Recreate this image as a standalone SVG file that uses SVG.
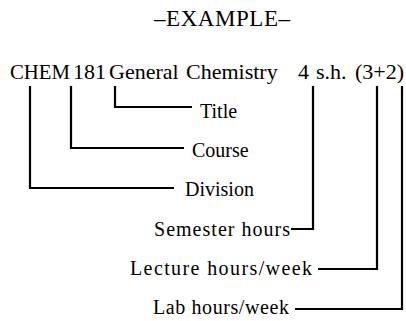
<svg xmlns="http://www.w3.org/2000/svg" width="406" height="321" viewBox="0 0 406 321">
<style>
text{font-family:'Liberation Serif','Times New Roman',serif;fill:#000}
.h{font-size:23px}
.m{font-size:22px}
.l{font-size:20px}
.c{fill:none;stroke:#000;stroke-width:2.2}
</style>
<rect width="406" height="321" fill="#fff"/>
<g id="heading"><text class="h" x="154" y="26" textLength="136">–EXAMPLE–</text></g>
<g id="course-line">
<text class="m" y="79"><tspan x="10" textLength="60" lengthAdjust="spacingAndGlyphs">CHEM</tspan><tspan x="73">181</tspan><tspan x="109">General</tspan><tspan x="186">Chemistry</tspan><tspan x="298">4</tspan><tspan x="316">s.h.</tspan><tspan x="355" textLength="49">(3+2)</tspan></text>
</g>
<g id="title"><text class="l" x="200" y="118">Title</text></g>
<g id="course"><text class="l" x="192" y="157">Course</text></g>
<g id="division"><text class="l" x="185" y="196">Division</text></g>
<g id="semester"><text class="l" x="154" y="236" textLength="136">Semester hours</text></g>
<g id="lecture"><text class="l" x="130" y="275" textLength="182">Lecture hours/week</text></g>
<g id="lab"><text class="l" x="153" y="314" textLength="136">Lab hours/week</text></g>
<g id="connectors">
<path class="c" d="M115 86V107H192"/>
<path class="c" d="M71 86V148H184"/>
<path class="c" d="M30 86V188H174"/>
<path class="c" d="M313 86V229H291"/>
<path class="c" d="M377 86V269H318"/>
<path class="c" d="M402 86V309H295"/>
</g>
</svg>
